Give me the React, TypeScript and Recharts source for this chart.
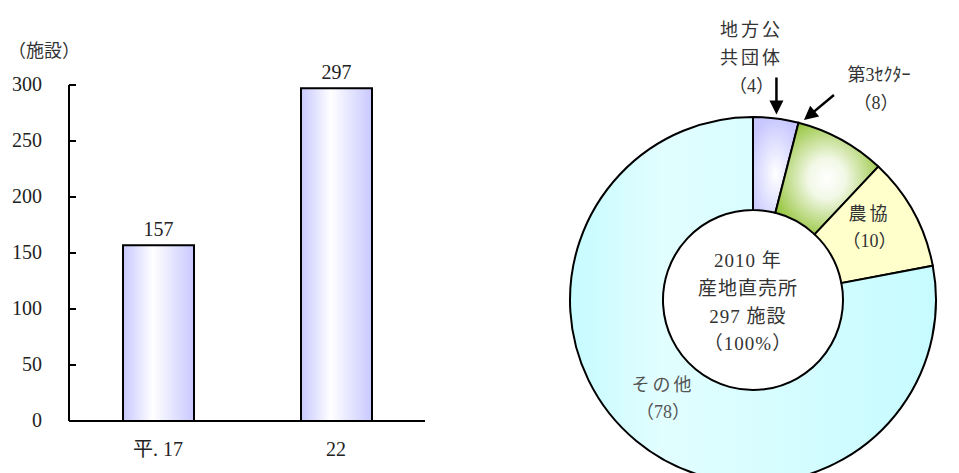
import React from "react";
import { Bar, BarChart, Cell, Label, LabelList, Pie, PieChart, XAxis, YAxis } from "recharts";

const years = ["平. 17", "22"];
const facilities = [157, 297];
const yTicks = [0, 50, 100, 150, 200, 250, 300];

const operators = ["地方公共団体", "第3ｾｸﾀｰ", "農協", "その他"];
const shares = [4, 8, 10, 78];
const sliceFills = ["url(#gLocal)", "url(#gThird)", "#ffffcc", "url(#gOther)"];
const centerLines = ["2010 年", "産地直売所", "297 施設", "（100%）"];

const FONT = "'Liberation Serif', 'Noto Sans CJK JP', serif";
const RAD = Math.PI / 180;
const PIE_CX = 268;
const PIE_CY = 295;

const barData = years.map((y, i) => ({ year: y, count: facilities[i] }));
const pieData = operators.map((n, i) => ({ name: n, value: shares[i] }));

// tick label on the left, short tick pointing into the plot
function YTick({ x, y, payload }: any) {
  return (
    <g>
      <line x1={x + 27} x2={x + 34} y1={y} y2={y} stroke="#000" strokeWidth={2} />
      <text x={x} y={y} dy={6} textAnchor="end" fill="#222" fontSize={20} fontFamily={FONT}>
        {payload.value}
      </text>
    </g>
  );
}

function arrowHead(tx: number, ty: number, ux: number, uy: number) {
  const px = -uy;
  const py = ux;
  const bx = tx + ux * 14;
  const by = ty + uy * 14;
  return `${tx},${ty} ${bx + px * 7},${by + py * 7} ${bx - px * 7},${by - py * 7}`;
}

function SliceLabel(props: any) {
  const { cx, cy, midAngle, innerRadius, outerRadius, name, value, index } = props;
  const txt = { fontSize: 18, fontFamily: FONT, textAnchor: "middle" as const };
  if (index === 0) {
    const tx = cx + (outerRadius + 4) * Math.cos(midAngle * RAD);
    const ty = cy - (outerRadius + 4) * Math.sin(midAngle * RAD);
    return (
      <g>
        <line x1={tx} y1={ty - 37} x2={tx} y2={ty - 12} stroke="#000" strokeWidth={2.5} />
        <polygon points={arrowHead(tx, ty, 0, -1)} fill="#000" />
        <text x={tx - 25} y={ty - 78} fill="#333" letterSpacing={3} {...txt}>地方公</text>
        <text x={tx - 25} y={ty - 50} fill="#333" letterSpacing={3} {...txt}>共団体</text>
        <text x={tx - 25} y={ty - 22} fill="#333" {...txt}>（{value}）</text>
      </g>
    );
  }
  if (index === 1) {
    const a = (midAngle + 13) * RAD;
    const tx = cx + (outerRadius + 4) * Math.cos(a);
    const ty = cy - (outerRadius + 4) * Math.sin(a);
    const ux = 30 / 39;
    const uy = -25 / 39;
    return (
      <g>
        <line x1={tx + ux * 10} y1={ty + uy * 10} x2={tx + 30} y2={ty - 25} stroke="#000" strokeWidth={2.5} />
        <polygon points={arrowHead(tx, ty, ux, uy)} fill="#000" />
        <text x={tx + 75} y={ty - 39} fill="#333" {...txt}>{name}</text>
        <text x={tx + 72} y={ty - 11} fill="#333" {...txt}>（{value}）</text>
      </g>
    );
  }
  const r = (innerRadius + outerRadius) / 2;
  const x = cx + r * Math.cos(midAngle * RAD) - 3;
  const y = cy - r * Math.sin(midAngle * RAD) - 4;
  const color = index === 3 ? "#555" : "#333";
  return (
    <g>
      <text x={x} y={y - 10} fill={color} letterSpacing={3} {...txt}>{name}</text>
      <text x={x} y={y + 17} fill={color} {...txt}>（{value}）</text>
    </g>
  );
}

function CenterText({ centerX, centerY }: any) {
  const offs = [-35, -7, 21, 48];
  return (
    <g>
      {centerLines.map((l, i) => (
        <text key={l} x={centerX} y={centerY + offs[i] + 7} textAnchor="middle" fill="#333" fontSize={19} letterSpacing={1} fontFamily={FONT}>
          {l}
        </text>
      ))}
    </g>
  );
}

export default function App() {
  return (
    <div style={{ position: "absolute", left: 0, top: 0, width: 959, height: 473, background: "#fff" }}>
      <div style={{ position: "absolute", left: 8, top: 36, fontSize: 18, fontFamily: FONT, color: "#333" }}>
        （施設）
      </div>
      <div style={{ position: "absolute", left: 0, top: 0 }}>
        <BarChart width={460} height={473} data={barData} margin={{ top: 85, right: 35, bottom: 22, left: 0 }}>
          <defs>
            <linearGradient id="barGrad" x1="0" y1="0" x2="1" y2="0">
              <stop offset="0" stopColor="#c8c8ff" />
              <stop offset="0.42" stopColor="#ffffff" />
              <stop offset="1" stopColor="#c8c8ff" />
            </linearGradient>
          </defs>
          <XAxis
            dataKey="year"
            height={30}
            axisLine={{ stroke: "#000", strokeWidth: 2 }}
            tickLine={false}
            tickSize={0}
            tickMargin={21}
            tick={{ fill: "#222", fontSize: 20, fontFamily: FONT }}
          />
          <YAxis
            width={69}
            domain={[0, 300]}
            ticks={yTicks}
            interval={0}
            axisLine={{ stroke: "#000", strokeWidth: 2 }}
            tickLine={false}
            tickSize={0}
            tickMargin={27}
            tick={<YTick />}
          />
          <Bar dataKey="count" barSize={71} fill="url(#barGrad)" stroke="#000" strokeWidth={2} isAnimationActive={false}>
            <LabelList dataKey="count" position="top" offset={9} fill="#222" fontSize={20} fontFamily={FONT} />
          </Bar>
        </BarChart>
      </div>
      <div style={{ position: "absolute", left: 480, top: 0 }}>
        <PieChart width={479} height={473}>
          <defs>
            <radialGradient id="gLocal" cx="0.5" cy="0.6" r="0.6">
              <stop offset="0" stopColor="#ffffff" />
              <stop offset="1" stopColor="#c8c8ff" />
            </radialGradient>
            <radialGradient id="gThird" cx="0.5" cy="0.5" r="0.6">
              <stop offset="0" stopColor="#ffffff" />
              <stop offset="0.3" stopColor="#f2f8e6" />
              <stop offset="1" stopColor="#8cbf2a" />
            </radialGradient>
            <linearGradient id="gOther" x1="0" y1="0" x2="1" y2="0">
              <stop offset="0" stopColor="#c6fbff" />
              <stop offset="0.25" stopColor="#e2feff" />
              <stop offset="1" stopColor="#c6fbff" />
            </linearGradient>
          </defs>
          <Pie
            data={pieData}
            dataKey="value"
            nameKey="name"
            cx={PIE_CX}
            cy={PIE_CY}
            innerRadius={90}
            outerRadius={183}
            startAngle={90}
            endAngle={-270}
            stroke="#000"
            strokeWidth={2}
            label={SliceLabel}
            labelLine={false}
            isAnimationActive={false}
          >
            {pieData.map((d, i) => (
              <Cell key={d.name} fill={sliceFills[i]} />
            ))}
            <Label position="center" content={<CenterText centerX={PIE_CX} centerY={PIE_CY} />} />
          </Pie>
        </PieChart>
      </div>
    </div>
  );
}
